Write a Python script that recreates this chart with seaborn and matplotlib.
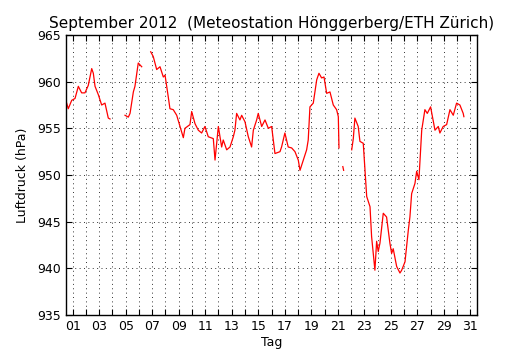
import pandas as pd
import matplotlib
matplotlib.use("Agg")
import matplotlib.pyplot as plt
import seaborn as sns
import numpy as np

# Luftdruck September 2012 (day of month, hPa)
# segments separated where the station record has gaps
seg1_day = [0.55, 0.67, 0.93, 1.18, 1.43, 1.68, 1.93, 2.18, 2.44, 2.56, 2.69, 2.94,
            3.19, 3.44, 3.69, 3.82]
seg1_hpa = [957.7, 957.1, 958.0, 958.2, 959.5, 958.8, 958.8, 959.6, 961.4, 960.9, 959.5, 958.6,
            957.5, 957.7, 956.1, 956.0]

seg2_day = [4.95, 5.20, 5.33, 5.58, 5.70, 5.95, 6.21]
seg2_hpa = [956.4, 956.2, 956.6, 958.9, 959.5, 962.0, 961.6]

seg3_day = [6.89, 7.08, 7.34, 7.59, 7.84, 7.97, 8.21, 8.34, 8.59, 8.85, 9.10, 9.35, 9.47,
            9.85, 9.98, 10.23, 10.48, 10.73, 10.98, 11.23, 11.61, 11.74, 11.99, 12.24, 12.36,
            12.62, 12.87, 13.12, 13.24, 13.37, 13.62, 13.75, 14.00, 14.25, 14.50, 14.63,
            14.88, 15.00, 15.26, 15.51, 15.76, 16.01, 16.26, 16.64, 16.76, 17.01, 17.26,
            17.52, 17.77, 18.02, 18.15, 18.40, 18.65, 18.77, 18.90, 19.15, 19.41, 19.58,
            19.78, 19.96, 20.16, 20.41, 20.66, 20.91, 21.04, 21.09]
seg3_hpa = [963.2, 962.7, 961.3, 961.6, 960.5, 960.7, 958.4, 957.1, 957.0, 956.4, 955.2, 954.0, 955.0,
            955.4, 956.8, 955.5, 954.8, 954.5, 955.2, 954.1, 953.9, 951.6, 955.2, 953.0, 953.75,
            952.7, 953.0, 954.1, 954.8, 956.6, 955.9, 956.4, 955.7, 954.1, 953.0, 954.8,
            955.9, 956.6, 955.2, 955.9, 955.0, 955.2, 952.3, 952.5, 953.0, 954.5, 953.0,
            952.9, 952.5, 951.6, 950.5, 951.6, 952.7, 953.75, 957.3, 957.7, 960.2, 960.9,
            960.4, 960.5, 958.75, 958.9, 957.5, 957.0, 956.25, 952.9]

seg4_day = [21.38, 21.44]
seg4_hpa = [950.9, 950.5]

seg5_day = [22.05, 22.17, 22.29, 22.54, 22.67, 22.92, 23.18, 23.43, 23.55, 23.80, 23.93,
            24.05, 24.18, 24.43, 24.68, 24.93, 25.06, 25.18, 25.44, 25.69, 25.82, 26.07,
            26.32, 26.44, 26.57, 26.82, 26.95, 27.12, 27.33, 27.57, 27.75, 28.00, 28.33,
            28.58, 28.70, 28.95, 29.21, 29.46, 29.71, 29.96, 30.21, 30.46, 30.51]
seg5_hpa = [952.7, 953.9, 956.1, 955.2, 953.6, 953.4, 947.7, 946.6, 943.4, 939.8, 942.9,
            941.8, 942.7, 945.9, 945.5, 942.7, 941.6, 942.1, 940.2, 939.5, 939.8, 940.7,
            944.1, 945.5, 948.0, 949.1, 950.4, 949.5, 954.8, 957.0, 956.6, 957.3, 954.8,
            955.2, 954.5, 955.2, 955.4, 957.0, 956.4, 957.7, 957.5, 956.6, 956.25]

day_ticks = list(range(1, 32))
day_labels = [f"{d:02d}" if d % 2 == 1 else "" for d in day_ticks]
hpa_ticks = [935, 940, 945, 950, 955, 960, 965]

segments = [(seg1_day, seg1_hpa), (seg2_day, seg2_hpa), (seg3_day, seg3_hpa),
            (seg4_day, seg4_hpa), (seg5_day, seg5_hpa)]
df = pd.concat([pd.DataFrame({"Tag": d, "Luftdruck": p, "seg": i})
                for i, (d, p) in enumerate(segments)], ignore_index=True)

plt.rcParams.update({
    "font.family": "DejaVu Sans",
    "xtick.direction": "in", "ytick.direction": "in",
    "xtick.top": True, "ytick.right": True,
    "xtick.major.size": 4, "ytick.major.size": 4,
    "axes.linewidth": 1.0,
})

fig = plt.figure(figsize=(5.3, 3.5), dpi=100)
ax = fig.add_axes([66 / 530, 35 / 350, 411 / 530, 280 / 350])

sns.lineplot(data=df, x="Tag", y="Luftdruck", units="seg", estimator=None,
             color="red", linewidth=0.9, ax=ax, legend=False)

ax.set_xlim(0.5, 31.5)
ax.set_ylim(935, 965)
ax.set_xticks(day_ticks)
ax.set_xticklabels(day_labels, fontsize=9)
ax.set_yticks(hpa_ticks)
ax.tick_params(axis="y", labelsize=9)
ax.grid(True, color="black", linestyle=(0, (1, 3.5)), linewidth=0.7, alpha=0.8)
ax.set_xlabel("Tag", fontsize=9, labelpad=2)
ax.set_ylabel("Luftdruck (hPa)", fontsize=9, labelpad=6)
ax.set_title("September 2012  (Meteostation Hönggerberg/ETH Zürich)", fontsize=11, pad=5)

fig.savefig("out.png", dpi=100)
